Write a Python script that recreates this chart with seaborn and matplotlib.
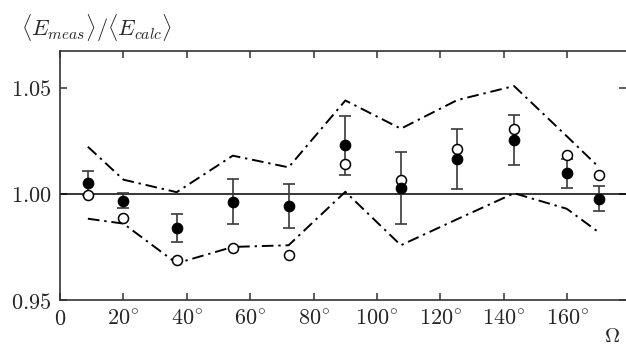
import matplotlib
matplotlib.use("Agg")
import matplotlib.pyplot as plt
import seaborn as sns
import pandas as pd

# Scattering angles (degrees)
angles = [8.8, 20.0, 36.8, 54.5, 72.1, 90.0, 107.5, 125.3, 143.2, 159.8, 170.0]
# Measured ratio (filled circles) with its uncertainty
ratio_meas = [1.0050, 0.9967, 0.9840, 0.9964, 0.9944, 1.0229, 1.0028, 1.0164, 1.0254, 1.0097, 0.9977]
ratio_err = [0.0057, 0.0035, 0.0066, 0.0104, 0.0103, 0.0138, 0.0169, 0.0140, 0.0117, 0.0069, 0.0060]
# Alternative evaluation (open circles)
ratio_alt = [0.9997, 0.9886, 0.9687, 0.9746, 0.9712, 1.0140, 1.0065, 1.0213, 1.0304, 1.0182, 1.0089]
# Upper and lower limits of the systematic band (dash-dot)
band_upper = [1.0222, 1.0067, 1.0008, 1.0180, 1.0125, 1.0440, 1.0307, 1.0442, 1.0508, 1.0272, 1.0125]
band_lower = [0.9883, 0.9860, 0.9673, 0.9750, 0.9758, 1.0010, 0.9758, 0.9881, 1.0003, 0.9930, 0.9818]

xticks = [0, 20, 40, 60, 80, 100, 120, 140, 160]
xticklabels = ["$0$"] + [rf"${t}^{{\circ}}$" for t in xticks[1:]]
yticks = [0.95, 1.00, 1.05]
yticklabels = ["$0.95$", "$1.00$", "$1.05$"]

sns.set_style("ticks")
plt.rcParams["mathtext.fontset"] = "cm"
plt.rcParams["font.family"] = ["DejaVu Serif"]

df = pd.DataFrame({"angle": angles, "meas": ratio_meas, "err": ratio_err,
                   "alt": ratio_alt, "upper": band_upper, "lower": band_lower})

fig = plt.figure(figsize=(6.26, 3.47), dpi=100)
ax = fig.add_axes([0.0958, 0.1354, 0.9042, 0.7176])

dashdot = (6, 2.5, 1.2, 2.5)
sns.lineplot(data=df, x="angle", y="upper", ax=ax, color="black", lw=1.4,
             dashes=False, zorder=2).lines[-1].set_dashes(dashdot)
sns.lineplot(data=df, x="angle", y="lower", ax=ax, color="black", lw=1.4,
             dashes=False, zorder=2).lines[-1].set_dashes(dashdot)

ax.axhline(1.0, color="black", lw=1.1, zorder=1)

ax.errorbar(df["angle"], df["meas"], yerr=df["err"], fmt="none",
            ecolor="#3a3a3a", elinewidth=1.2, capsize=4, capthick=1.2, zorder=3)

sns.scatterplot(data=df, x="angle", y="alt", ax=ax, marker="o", s=52,
                facecolor="white", edgecolor="black", linewidth=1.1, zorder=4)
sns.scatterplot(data=df, x="angle", y="meas", ax=ax, marker="o", s=58,
                color="black", edgecolor="black", linewidth=0.8, zorder=5)

ax.set_xlim(0, 178.5)
ax.set_ylim(0.95, 1.0673)
ax.set_xticks(xticks)
ax.set_xticklabels(xticklabels, fontsize=16)
ax.set_yticks(yticks)
ax.set_yticklabels(yticklabels, fontsize=16)
ax.tick_params(axis="both", direction="in", length=5, width=1.1, color="#333333",
               top=True, right=True, pad=6)
ax.set_xlabel("")
ax.set_ylabel("")

for side in ["left", "bottom", "top"]:
    ax.spines[side].set_linewidth(1.2)
    ax.spines[side].set_color("#333333")
ax.spines["right"].set_visible(False)

fig.text(0.033, 0.918, r"$\langle E_{meas}\rangle/\langle E_{calc}\rangle$",
         fontsize=16, ha="left", va="center")
fig.text(0.978, 0.004, r"$\Omega$", fontsize=15, ha="center", va="bottom")

fig.savefig("out.png", dpi=100)
